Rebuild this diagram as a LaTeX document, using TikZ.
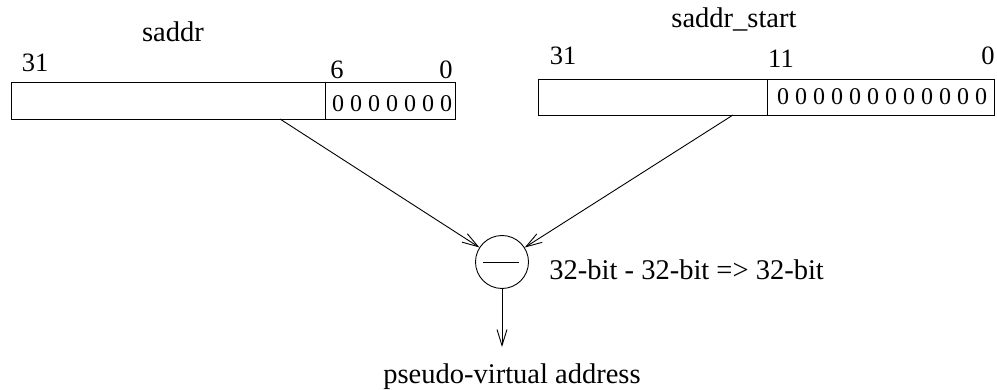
\documentclass[tikz,border=0pt]{standalone}
\usepackage{fontspec}
\setmainfont{Liberation Serif}
\usetikzlibrary{arrows.meta}
\begin{document}
\begin{tikzpicture}[x=1pt,y=1pt,
  line width=0.9pt,
  lbl/.style={font=\fontsize{26.5}{30}\selectfont, inner sep=0pt, anchor=base},
  ttl/.style={font=\fontsize{28.5}{33}\selectfont, inner sep=0pt, anchor=base},
  zeros/.style={font=\fontsize{24}{28}\selectfont, inner sep=0pt, anchor=base},
  reg/.style={draw, line width=0.9pt, inner sep=0pt},
  arr/.style={-{Straight Barb[length=16pt,width=10pt,line width=0.9pt]}},
  opcirc/.style={draw, circle, minimum size=53pt, inner sep=0pt, line width=0.9pt}]
\useasboundingbox (0,0) rectangle (997,-390);
% left register
\node[reg, minimum width=444pt, minimum height=37pt] (lbox) at (233,-100.5) {};
\draw (325,-82) -- (325,-119);
\node[zeros] (lz) at (392,-112) {0 0 0 0 0 0 0};
\node[ttl] (lt) at (173,-42) {saddr};
\node[lbl] (l31) at (35,-72) {31};
\node[lbl] (l6) at (337,-79) {6};
\node[lbl] (l0) at (446,-79) {0};
% right register
\node[reg, minimum width=456pt, minimum height=36pt] (rbox) at (766,-97) {};
\draw (767,-79) -- (767,-115);
\node[zeros] (rz) at (882,-105) {0 0 0 0 0 0 0 0 0 0 0 0};
\node[ttl] (rt) at (734,-28) {saddr\_start};
\node[lbl] (r31) at (563,-65) {31};
\node[lbl] (r11) at (781,-68) {11};
\node[lbl] (r0) at (988,-65) {0};
% subtractor
\node[opcirc] (sub) at (502,-262) {};
\draw (483,-262) -- (519,-262);
\node[ttl, anchor=base west] (op) at (549,-280) {32-bit - 32-bit => 32-bit};
\coordinate (ls) at (280,-119);
\coordinate (rs) at (733,-115);
\coordinate (out) at (502,-347);
\draw[arr] (ls) -- (sub);
\draw[arr] (rs) -- (sub);
\draw[arr] (sub) -- (out);
\node[ttl] (res) at (512,-384) {pseudo-virtual address};
\end{tikzpicture}
\end{document}
